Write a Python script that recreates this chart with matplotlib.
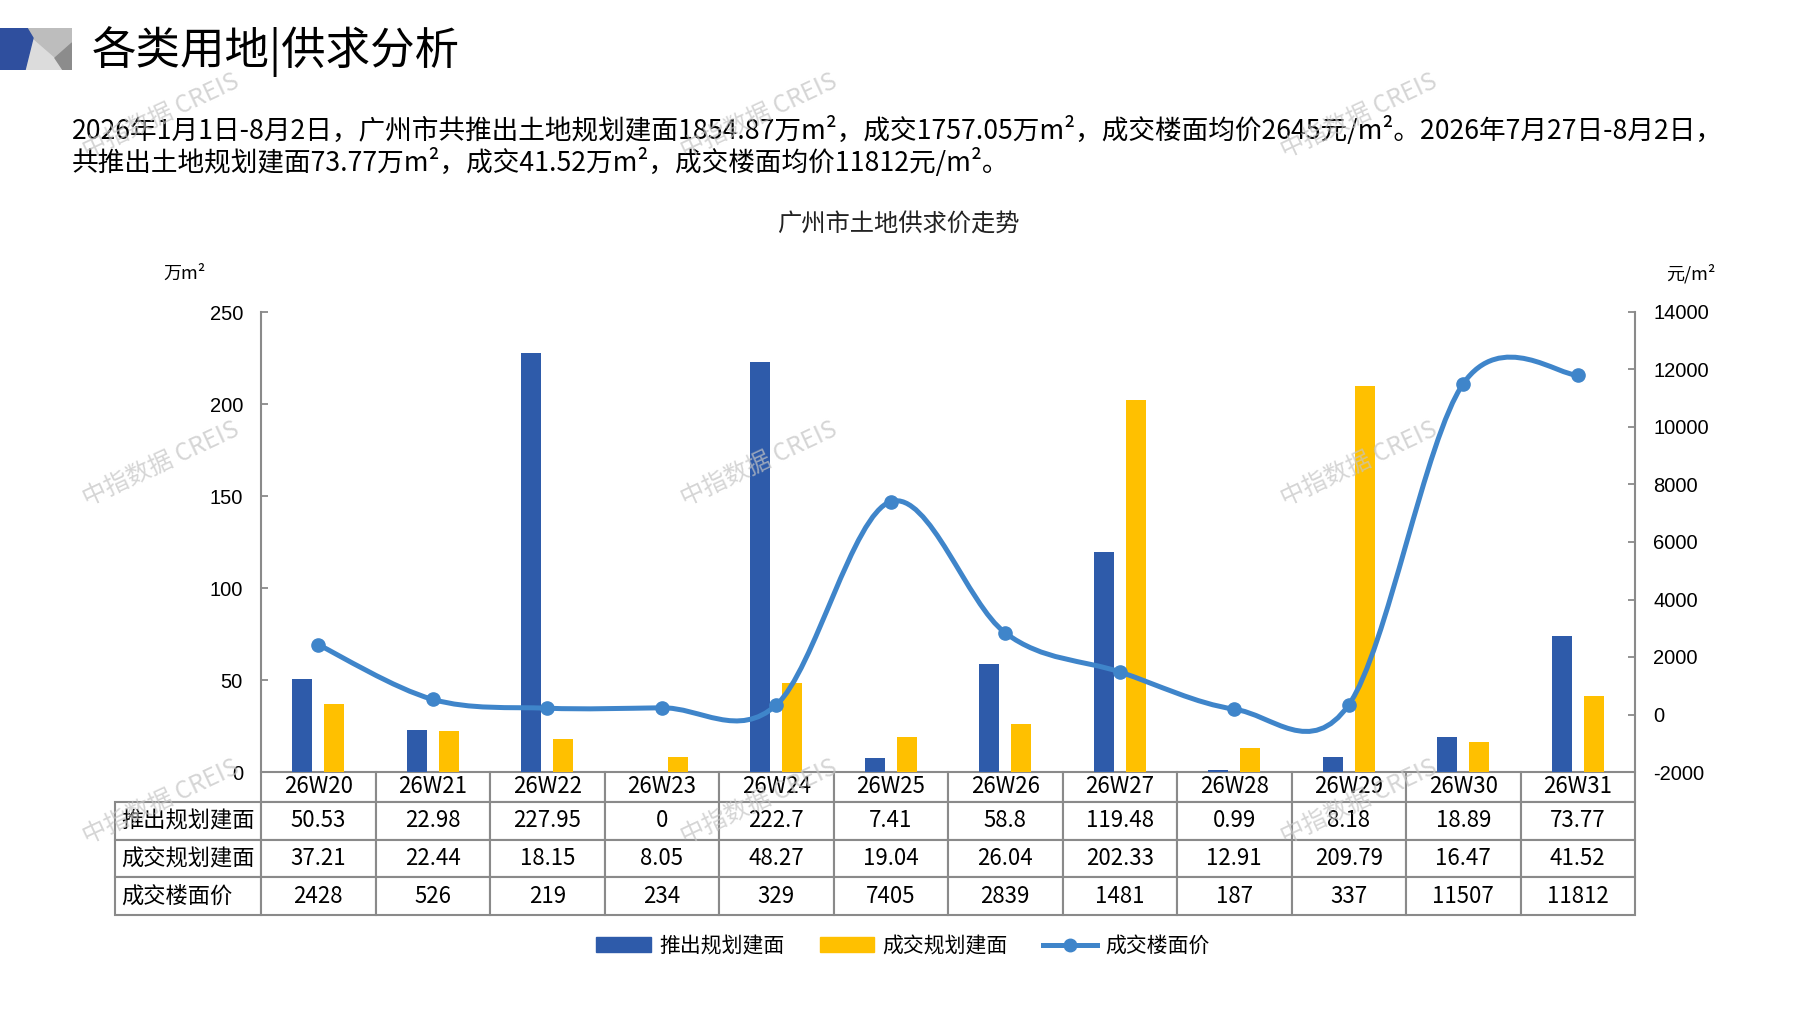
import numpy as np
import matplotlib
matplotlib.use("Agg")
import matplotlib.pyplot as plt
from matplotlib.path import Path
from matplotlib.patches import PathPatch, Patch, Polygon
from matplotlib.lines import Line2D

plt.rcParams['font.family'] = ['Noto Sans CJK SC', 'DejaVu Sans']
plt.rcParams['axes.unicode_minus'] = False

weeks = ["26W20", "26W21", "26W22", "26W23", "26W24", "26W25",
         "26W26", "26W27", "26W28", "26W29", "26W30", "26W31"]
supply = [50.53, 22.98, 227.95, 0, 222.7, 7.41, 58.8, 119.48, 0.99, 8.18, 18.89, 73.77]
deal = [37.21, 22.44, 18.15, 8.05, 48.27, 19.04, 26.04, 202.33, 12.91, 209.79, 16.47, 41.52]
price = [2428, 526, 219, 234, 329, 7405, 2839, 1481, 187, 337, 11507, 11812]
row_names = ["推出规划建面", "成交规划建面", "成交楼面价"]

BLUE = "#2E5BAA"
YELLOW = "#FFC000"
LINE = "#3F85CA"
GREY = "#8a8a8a"
NUM_FONT = ['Liberation Sans Narrow', 'Noto Sans CJK SC', 'DejaVu Sans']
TICK_FONT = ['Liberation Sans', 'DejaVu Sans']

W, H = 1797, 1010
fig = plt.figure(figsize=(W / 100, H / 100), dpi=100)

def fx(px):
    return px / W

def fy(py):
    return 1 - py / H

# header decoration
deco = fig.add_axes([0, fy(70), fx(72), (70 - 28) / H])
deco.set_xlim(0, 72)
deco.set_ylim(70, 28)
deco.axis('off')
deco.add_patch(Polygon([(0, 28), (72, 28), (72, 70), (0, 70)], color="#dcdcdc"))
deco.add_patch(Polygon([(27, 28), (72, 28), (72, 45), (56, 58), (33, 38)], color="#bdbdbd"))
deco.add_patch(Polygon([(72, 43), (72, 70), (63, 70), (55, 58)], color="#8c8c8c"))
deco.add_patch(Polygon([(0, 28), (27, 28), (33, 38), (25, 70), (0, 70)], color="#2F4F9E"))

fig.text(fx(92), fy(52), "各类用地|供求分析", fontsize=32, va='center', ha='left')

para1 = ("2026年1月1日-8月2日，广州市共推出土地规划建面1854.87万m²，成交1757.05万m²，"
         "成交楼面均价2645元/m²。2026年7月27日-8月2日，")
para2 = "共推出土地规划建面73.77万m²，成交41.52万m²，成交楼面均价11812元/m²。"
fig.text(fx(72), fy(130), para1, fontsize=19.2, family=NUM_FONT, va='center', ha='left')
fig.text(fx(72), fy(162), para2, fontsize=19.2, family=NUM_FONT, va='center', ha='left')

fig.text(0.5, fy(225), "广州市土地供求价走势", fontsize=17.5, ha='center', va='center', color="#222222")

# main axes
ax = fig.add_axes([fx(261), fy(772), fx(1635 - 261), (772 - 312) / H])
ax2 = ax.twinx()
x = np.arange(len(weeks))
ax.bar(x - 0.14, supply, width=0.175, color=BLUE, zorder=2)
ax.bar(x + 0.14, deal, width=0.175, color=YELLOW, zorder=2)
ax.set_xlim(-0.5, len(weeks) - 0.5)
ax.set_ylim(0, 250)
ax.set_yticks(np.arange(0, 251, 50))
ax2.set_ylim(-2000, 14000)
ax2.set_yticks(np.arange(-2000, 14001, 2000))
ax.set_xticks([])

for a in (ax, ax2):
    for s in ('top', 'bottom'):
        a.spines[s].set_visible(False)
    a.tick_params(axis='y', direction='in', length=5, width=1.3, color=GREY, pad=13, labelsize=14.5)
    for lab in a.get_yticklabels():
        lab.set_family(TICK_FONT)
ax.spines['left'].set_color(GREY)
ax.spines['left'].set_linewidth(1.5)
ax.spines['right'].set_visible(False)
ax2.spines['left'].set_visible(False)
ax2.spines['right'].set_color(GREY)
ax2.spines['right'].set_linewidth(1.5)

# smoothed price line (Bezier through the points, like Excel smoothing)
pts = np.column_stack([x, price]).astype(float)
verts = [pts[0]]
codes = [Path.MOVETO]
n = len(pts)
for i in range(n - 1):
    p0 = pts[i - 1] if i > 0 else pts[i]
    p1 = pts[i]
    p2 = pts[i + 1]
    p3 = pts[i + 2] if i + 2 < n else pts[i + 1]
    verts += [p1 + (p2 - p0) / 6, p2 - (p3 - p1) / 6, p2]
    codes += [Path.CURVE4] * 3
ax2.add_patch(PathPatch(Path(verts, codes), fill=False, edgecolor=LINE, lw=3.6,
                        capstyle='round', joinstyle='round', zorder=3))
ax2.plot(x, price, 'o', color=LINE, ms=9.5, zorder=4)

fig.text(fx(185), fy(274), "万m²", fontsize=13, ha='center', va='center')
fig.text(fx(1691), fy(274), "元/m²", fontsize=13, ha='center', va='center')

# data table under the axes; first column holds the row names
cell_text = [[row_names[0]] + [f"{v:g}" for v in supply],
             [row_names[1]] + [f"{v:g}" for v in deal],
             [row_names[2]] + [str(v) for v in price]]
lab_w = 146 / 1374
tbl = ax.table(cellText=cell_text, colLabels=[""] + weeks, cellLoc='center',
               bbox=[-lab_w, -143 / 460, 1 + lab_w, 143 / 460])
tbl.auto_set_font_size(False)
for (r, c), cell in tbl.get_celld().items():
    cell.set_edgecolor(GREY)
    cell.set_linewidth(1.5)
    cell.set_width(146 if c == 0 else 114.5)
    cell.set_height(30 if r == 0 else 37.7)
    cell.PAD = 0.04
    t = cell.get_text()
    t.set_fontsize(16)
    t.set_family(NUM_FONT)
    if c == 0:
        t.set_horizontalalignment('left')
tbl[0, 0].visible_edges = 'open'

# legend
handles = [Patch(color=BLUE), Patch(color=YELLOW),
           Line2D([], [], color=LINE, lw=3.6, marker='o', ms=9)]
fig.legend(handles, ["推出规划建面", "成交规划建面", "成交楼面价"], loc='center',
           bbox_to_anchor=(fx(903), fy(946)), ncol=3, frameon=False, fontsize=15,
           handlelength=2.6, handletextpad=0.4, columnspacing=1.7)

# watermarks
for wx in (161, 759, 1359):
    for wy in (116, 464, 802):
        fig.text(fx(wx), fy(wy), "中指数据 CREIS", fontsize=17.5, rotation=25,
                 color="#c4c4c4", alpha=0.7, ha='center', va='center')

fig.savefig("out.png", dpi=100)
